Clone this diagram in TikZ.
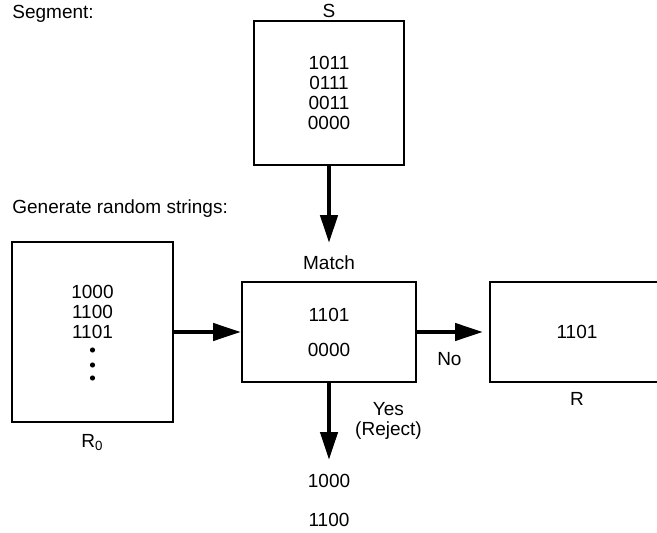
\documentclass[tikz,border=0pt]{standalone}
\usepackage{fontspec}
\setmainfont{Liberation Sans}
\usetikzlibrary{positioning,arrows.meta}

\begin{document}
\begin{tikzpicture}[
  font=\fontsize{9.5}{10}\selectfont,
  blk/.style={draw,line width=1pt,align=center},
  lbl/.style={inner sep=0pt},
  arr/.style={-{Triangle[length=14pt,width=8.5pt]},line width=2.2pt}]
\clip (0,0) rectangle (328.5pt,-266.5pt);
\node[lbl,anchor=base west] (segtxt) at (6pt,-9.4pt) {Segment:};
\node[lbl,anchor=base west] (gentxt) at (6pt,-106.9pt) {Generate random strings:};
\node[blk,minimum width=75pt,minimum height=72pt] (seg) at (164.5pt,-46.5pt) {1011\\0111\\0011\\0000};
\node[lbl,above=1.2pt of seg] (seglbl) {S};
\node[blk,minimum width=87pt,minimum height=50pt,below=57.5pt of seg] (match) {1101\\[7.5pt]0000};
\node[lbl,above=5.6pt of match] (matchlbl) {Match};
\node[blk,minimum width=80.5pt,minimum height=90pt,text depth=20.3pt,left=33.5pt of match] (rzero) {1000\\1100\\1101};
\foreach \d in {9,16.5,23}
  \fill ([yshift=-\d pt]rzero.center) circle (1.3pt);
\node[lbl,below=5.6pt of rzero] (rzerolbl) {R\textsubscript{0}};
\node[blk,minimum width=87pt,minimum height=50pt,right=36pt of match] (res) {1101};
\node[lbl,below=4.6pt of res] (reslbl) {R};
\node[lbl,below=45.5pt of match] (rej1) {1000};
\node[lbl,below=12.5pt of rej1] (rej2) {1100};
\draw[arr,shorten >=6pt] (seg) -- (matchlbl);
\draw[arr] (rzero) -- (match);
\draw[arr,shorten >=3pt] (match) -- node[lbl,pos=0.45,below=9pt] {No} (res);
\draw[arr,shorten >=7pt] (match) -- node[lbl,pos=0.42,right=12pt,align=center] {Yes\\(Reject)} (rej1);
\end{tikzpicture}
\end{document}
